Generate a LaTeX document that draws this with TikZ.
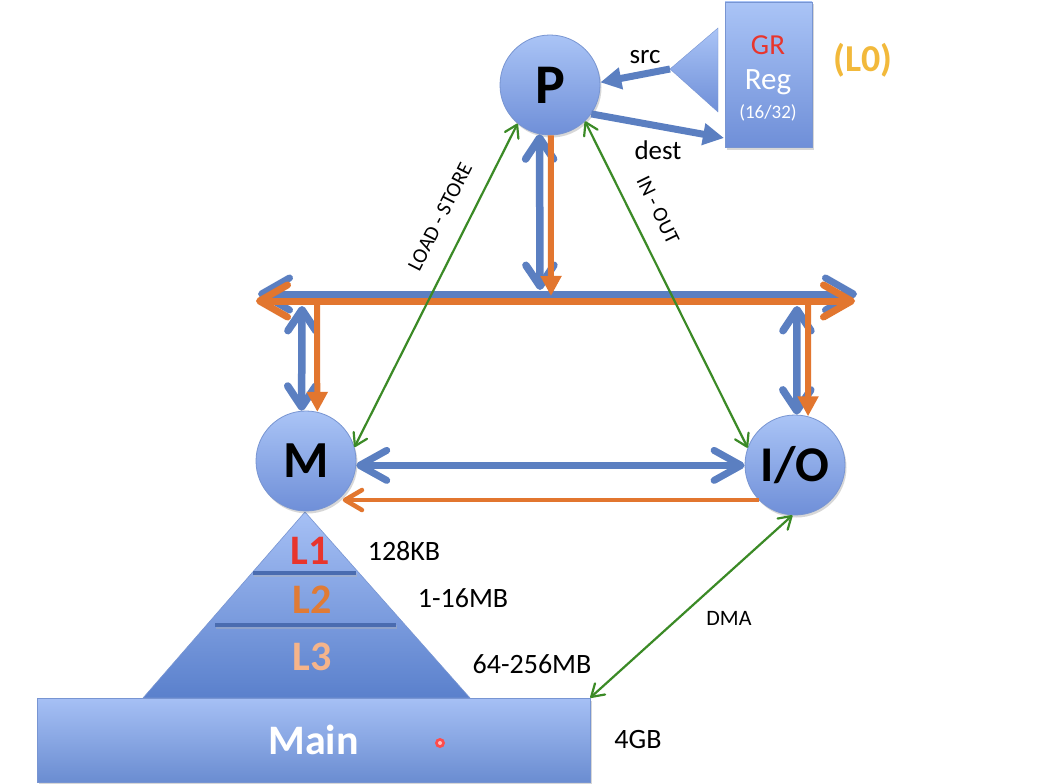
\documentclass[tikz,border=0pt]{standalone}
\usepackage{fontspec}
\setmainfont{Carlito}
\usetikzlibrary{arrows.meta,shadows,calc}
\definecolor{blueA}{HTML}{5B7FC1}
\definecolor{orangeA}{HTML}{E2762F}
\definecolor{greenA}{HTML}{3B8A26}
\definecolor{circTop}{HTML}{AAC4F6}
\definecolor{circBot}{HTML}{6F8FD8}
\definecolor{circEdge}{HTML}{7895D2}
\definecolor{pyrTop}{HTML}{A6C0F5}
\definecolor{pyrBot}{HTML}{5A80CC}
\definecolor{divLine}{HTML}{4A6CB0}
\definecolor{redL}{HTML}{E8352D}
\definecolor{orangeL}{HTML}{E07B35}
\definecolor{peachL}{HTML}{F5B48A}
\definecolor{goldL}{HTML}{F2B93B}
\tikzset{
  bbus/.tip={Straight Barb[length=28pt,width=32pt,round]},
  bvert/.tip={Straight Barb[length=21pt,width=28pt,round]},
  bmio/.tip={Straight Barb[length=27pt,width=30pt,round]},
  omio/.tip={Straight Barb[length=17pt,width=20pt,round]},
  otri/.tip={Triangle[length=20pt,width=20pt]},
  sdtri/.tip={Triangle[length=21pt,width=21pt]},
  gbarb/.tip={Straight Barb[length=12pt,width=15pt,round]},
}
\begin{document}
\begin{tikzpicture}[x=1pt,y=-1pt,
  shad/.style={drop shadow={shadow xshift=1.5pt,shadow yshift=-2.5pt,opacity=0.22,fill=black!70}},
  circ/.style={circle,minimum size=100pt,inner sep=0pt,draw=circEdge,line width=0.8pt,
    top color=circTop,bottom color=circBot,shad,text=black},
  busB/.style={draw=blueA,line width=7pt,arrows={bbus-bbus}},
  busO/.style={draw=orangeA,line width=7pt,arrows={bbus-bbus}},
  vB/.style={draw=blueA,line width=7.5pt,arrows={bvert-bvert}},
  vO/.style={draw=orangeA,line width=6pt,arrows={-otri},fill=orangeA},
  mioB/.style={draw=blueA,line width=7pt,arrows={bmio-bmio}},
  mioO/.style={draw=orangeA,line width=4.5pt,arrows={-omio}},
  sdArr/.style={draw=blueA,fill=blueA,line width=7pt,arrows={-sdtri}},
  gArr/.style={draw=greenA,line width=2.2pt,arrows={gbarb-gbarb}},
  lbl/.style={inner sep=0pt,text=black},
  bigL/.style={inner sep=0pt,font=\bfseries\fontsize{42}{42}\selectfont},
  sizeL/.style={inner sep=0pt,text=black,font=\fontsize{28}{28}\selectfont},
]
\useasboundingbox (0,0) rectangle (1037,784);
\fill[white] (0,0) rectangle (1037,784);

% pyramid and main memory
\path[draw=circEdge,line width=0.6pt,top color=pyrTop,bottom color=pyrBot,shad] (305,512) -- (143,698) -- (470,698) -- cycle;
\draw[black!30,line width=3.5pt,opacity=0.4] (254,575) -- (357,575);
\draw[black!30,line width=3.5pt,opacity=0.4] (216,627) -- (397,627);
\draw[divLine,line width=3.5pt] (253,573) -- (356,573);
\draw[divLine,line width=3.5pt] (215,625) -- (396,625);
\node[bigL,text=redL] (L1) at (310,551) {L1};
\node[bigL,text=orangeL] (L2) at (312,600) {L2};
\node[bigL,text=peachL] (L3) at (312,657) {L3};
\node[rectangle,minimum width=553pt,minimum height=84pt,inner sep=0pt,draw=circEdge,line width=0.6pt,
  top color=pyrTop,bottom color=pyrBot!90,shad,text=white,font=\bfseries\fontsize{42}{42}\selectfont] (Main) at (313.5,740) {Main};
\fill[red!70!white] (440,743) circle (5);
\fill[red!25!white] (440,743) circle (2);

% size labels
\node[sizeL] (s1) at (404,551) {128KB};
\node[sizeL] (s2) at (463,598) {1-16MB};
\node[sizeL] (s3) at (532,664) {64-256MB};
\node[sizeL] (s4) at (638,740) {4GB};

% circles
\node[circ,font=\bfseries\fontsize{56}{56}\selectfont] (P) at (550,85) {P};
\node[circ,font=\bfseries\fontsize{52}{52}\selectfont] (M) at (306,461) {M};
\node[circ,font=\bfseries\fontsize{50}{50}\selectfont] (IO) at (795,465) {I/O};

% register file
\node[rectangle,minimum width=87pt,minimum height=145pt,inner sep=0pt,draw=circEdge,line width=0.6pt,
  top color=circTop,bottom color=circBot,shad] (GR) at (768.5,74.5) {};
\path[top color=circTop,bottom color=circBot,draw=circEdge,line width=0.4pt] (670,69) -- (718,28) -- (718,112) -- cycle;
\coordinate (triTip) at (670,69);
\node[inner sep=0pt,text=redL,font=\fontsize{29}{29}\selectfont] (GRt) at (768,45) {GR};
\node[inner sep=0pt,text=white,font=\fontsize{31}{31}\selectfont] (Regt) at (768,82) {Reg};
\node[inner sep=0pt,text=white,font=\fontsize{19}{19}\selectfont] (Regn) at (768,113) {(16/32)};
\node[inner sep=0pt,text=goldL,font=\bfseries\fontsize{38}{38}\selectfont] (L0) at (863,60) {(L0)};

\coordinate (destEnd) at (724,138);
\draw[sdArr] (triTip) -- (P.3);
\draw[sdArr] (P.-35) -- (destEnd);
\node[lbl,font=\fontsize{27}{27}\selectfont] (srcL) at (645,57) {src};
\node[lbl,font=\fontsize{27}{27}\selectfont] (destL) at (658,150) {dest};

% bus
\coordinate (bL) at (258,294);
\coordinate (bR) at (857,294);
\coordinate (oL) at (256,301);
\coordinate (oR) at (855,301);
\draw[busB] (bL) -- (bR);
\draw[busO] (oL) -- (oR);

% vertical links
\coordinate (pB) at (540,290);
\coordinate (pO) at (551,296);
\coordinate (mB) at (302,306);
\coordinate (mO) at (317,303);
\coordinate (ioB) at (797,306);
\coordinate (ioO) at (808,303);
\draw[vB] (P.258) -- (pB);
\draw[vO] (P.271) -- (pO);
\draw[vB] (mB) -- (M.95);
\draw[vO] (mO) -- (M.77);
\draw[vB] (ioB) -- (IO.88);
\draw[vO] (ioO) -- (IO.75);

% M <-> I/O
\draw[mioB] (M.-5) -- (M.-5 -| IO.west);
\draw[mioO,shorten >=5pt] (IO.224) -- (IO.224 -| M.-51);

% green links
\draw[gArr] (M.16) -- (P.230);
\draw[gArr] (P.-46) -- (IO.160);
\draw[gArr] (IO.-93) -- (Main.north east);
\node[lbl,rotate=63,font=\fontsize{21}{21}\selectfont] (lsL) at (440,217) {LOAD - STORE};
\node[lbl,rotate=-64,font=\fontsize{21}{21}\selectfont] (ioL) at (658,210) {IN - OUT};
\node[lbl,font=\fontsize{22}{22}\selectfont] (dmaL) at (729,618) {DMA};
\end{tikzpicture}
\end{document}
